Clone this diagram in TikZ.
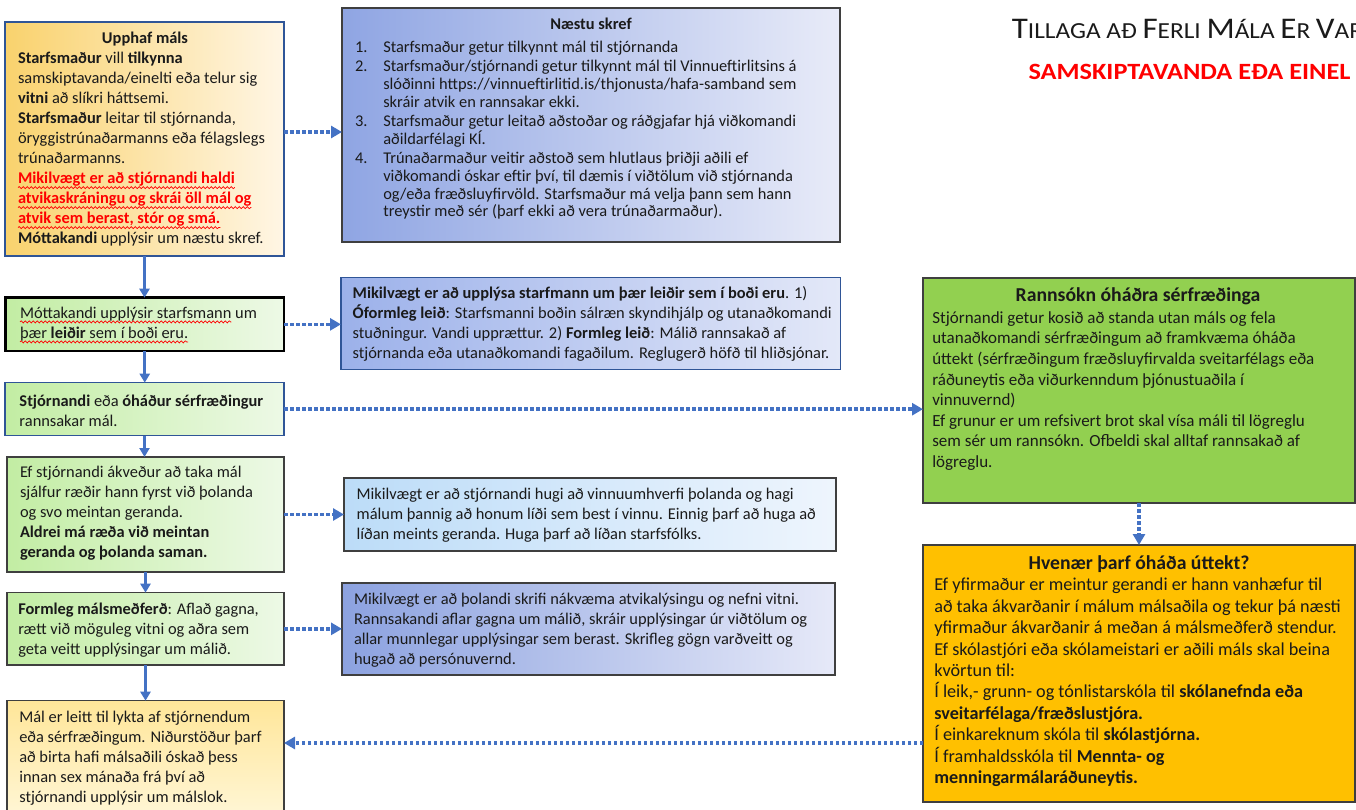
\documentclass[tikz,border=0pt]{standalone}
\usepackage{fontspec}
\usepackage{graphicx}
\setmainfont{Carlito}
\usetikzlibrary{arrows.meta,decorations.pathmorphing}
\definecolor{txtc}{HTML}{1A1A1A}
\definecolor{redtxt}{HTML}{FF0000}
\definecolor{wavered}{HTML}{FF0000}
\definecolor{arrblue}{HTML}{4472C4}
\definecolor{bordblue}{HTML}{2F5597}
\definecolor{bordgray}{HTML}{3F3F3F}
\definecolor{upL}{HTML}{F9D26D}
\definecolor{upR}{HTML}{FFF6E5}
\definecolor{naL}{HTML}{8FA5E3}
\definecolor{naR}{HTML}{E8EBF8}
\definecolor{leL}{HTML}{9CB1EA}
\definecolor{leR}{HTML}{E3E8F8}
\definecolor{grL}{HTML}{C2EDA3}
\definecolor{grR}{HTML}{EDF9E6}
\definecolor{maT}{HTML}{FFE699}
\definecolor{maB}{HTML}{FFF8DD}
\definecolor{huL}{HTML}{BCDCF8}
\definecolor{huR}{HTML}{EEF5FD}
\definecolor{thL}{HTML}{8CA2E0}
\definecolor{thR}{HTML}{E6E9F8}
\definecolor{rgreen}{HTML}{92D050}
\definecolor{horange}{HTML}{FFC000}
\newsavebox\wavbox
\newlength\wavw
\newcommand\wav[1]{\sbox\wavbox{#1}\setlength\wavw{\wd\wavbox}\usebox\wavbox\tikz[overlay,baseline=0pt]{\draw[wavered,line width=0.7pt,decorate,decoration={snake,amplitude=1.1pt,segment length=4pt}] (-\wavw,-3.6pt) -- (0pt,-3.6pt);}}
\newcommand\bigc[1]{{\fontsize{30}{30}\selectfont #1}}
\newcommand\smc[1]{{\fontsize{23}{30}\selectfont #1}}
\begin{document}
\begin{tikzpicture}[x=1pt,y=-1pt,
  box/.style={anchor=north west, inner sep=0pt, outer sep=0pt, line width=1.4pt},
  txt/.style={anchor=north west, inner sep=0pt, outer sep=0pt, align=left, text=txtc},
  ttl/.style={anchor=north, inner sep=0pt, outer sep=0pt, align=center, text=txtc},
  fa/.style={font=\fontsize{16.4}{20}\selectfont},
  solidarr/.style={draw=arrblue, line width=3pt, -{Triangle[length=9pt,width=10pt]}},
  dotarr/.style={draw=arrblue, line width=3.5pt, dash pattern=on 3.5pt off 2.5pt, -{Triangle[length=11pt,width=12pt]}}]
\useasboundingbox (0,0) rectangle (1356,810);
\clip (0,0) rectangle (1356,810);

% ---------- boxes ----------
\node[box, draw=bordblue, left color=upL, right color=upR, minimum width=279, minimum height=234] (upphaf) at (5,22) {};
\node[box, draw=bordgray, left color=naL, right color=naR, minimum width=498, minimum height=234] (naestu) at (342,8) {};
\node[box, draw=black, line width=2.5pt, left color=grL, right color=grR, minimum width=278.5, minimum height=53.3] (mott) at (5.5,297.7) {};
\node[box, draw=bordblue, left color=leL, right color=leR, minimum width=499.4, minimum height=92] (leidir) at (341,277.3) {};
\node[box, draw=bordblue, left color=grL, right color=grR, minimum width=279, minimum height=53] (stjorn) at (5,382.7) {};
\node[box, draw=bordgray, left color=grL, right color=grR, minimum width=277, minimum height=115] (ef) at (7,457) {};
\node[box, draw=bordgray, left color=huL, right color=huR, minimum width=492, minimum height=73] (hugi) at (344,478) {};
\node[box, draw=bordgray, left color=grL, right color=grR, minimum width=277, minimum height=72.3] (formleg) at (7,592.7) {};
\node[box, draw=bordgray, left color=thL, right color=thR, minimum width=493, minimum height=92] (thol) at (342,583) {};
\node[box, draw=bordgray, top color=maT, bottom color=maB, minimum width=277, minimum height=130] (mal) at (7,700.7) {};
\node[box, draw=bordgray, fill=rgreen, minimum width=432, minimum height=225] (rann) at (923,278) {};
\node[box, draw=bordgray, fill=horange, minimum width=432, minimum height=257] (hvenaer) at (923,545) {};

% ---------- title ----------
\node[anchor=base west, inner sep=0pt, text=txtc] (title1) at (1011.7,39)
  {\scalebox{1.1}[1]{\bigc{T}\smc{ILLAGA AÐ }\bigc{F}\smc{ERLI }\bigc{M}\smc{ÁLA }\bigc{E}\smc{R }\bigc{V}\smc{AR}}};
\node[anchor=base west, inner sep=0pt, text=redtxt, font=\bfseries\fontsize{23.3}{26}\selectfont] (title2) at (1028.3,80)
  {\scalebox{1.13}[1]{SAMSKIPTAVANDA EÐA EINEL}};

% ---------- texts ----------
\node[ttl, fa] (upT) at (145,30) {\strut\textbf{Upphaf máls}};
\node[txt, fa] (upB) at (18,50) {\strut\textbf{Starfsmaður} vill \textbf{tilkynna}\\
samskiptavanda/einelti eða telur sig\\
\textbf{vitni} að slíkri háttsemi.\\
\textbf{Starfsmaður} leitar til stjórnanda,\\
öryggistrúnaðarmanns eða félagslegs\\
trúnaðarmanns.\\
{\color{redtxt}\bfseries\wav{Mikilvægt er að stjórnandi haldi}}\\
{\color{redtxt}\bfseries\wav{atvikaskráningu og skrái öll mál og}}\\
{\color{redtxt}\bfseries\wav{atvik sem berast, stór og smá.}}\\
\textbf{Móttakandi} upplýsir um næstu skref.};

\node[ttl, fa] (naT) at (591,15.3) {\strut\textbf{Næstu skref}};
\node[txt, font=\fontsize{16.4}{17.7}\selectfont] (naB) at (355,40.3) {\strut\makebox[28.3pt][l]{1.}Starfsmaður getur tilkynnt mál til stjórnanda\\[1.6pt]
\makebox[28.3pt][l]{2.}Starfsmaður/stjórnandi getur tilkynnt mál til Vinnueftirlitsins á\\
\hspace*{28.3pt}slóðinni https://vinnueftirlitid.is/thjonusta/hafa-samband sem\\
\hspace*{28.3pt}skráir atvik en rannsakar ekki.\\[1.6pt]
\makebox[28.3pt][l]{3.}Starfsmaður getur leitað aðstoðar og ráðgjafar hjá viðkomandi\\
\hspace*{28.3pt}aðildarfélagi KÍ.\\[1.6pt]
\makebox[28.3pt][l]{4.}Trúnaðarmaður veitir aðstoð sem hlutlaus þriðji aðili ef\\
\hspace*{28.3pt}viðkomandi óskar eftir því, til dæmis í viðtölum við stjórnanda\\
\hspace*{28.3pt}og/eða fræðsluyfirvöld. Starfsmaður má velja þann sem hann\\
\hspace*{28.3pt}treystir með sér (þarf ekki að vera trúnaðarmaður).};

\node[txt, fa] (moB) at (20,304.3) {\strut\wav{Móttakandi upplýsir starfsmann} um\\
\wav{þær \textbf{leiðir} sem í boði eru.}};

\node[txt, fa] (leB) at (352.7,284.3) {\strut\textbf{Mikilvægt er að upplýsa starfmann um þær leiðir sem í boði eru}. 1)\\
\textbf{Óformleg leið}: Starfsmanni boðin sálræn skyndihjálp og utanaðkomandi\\
stuðningur. Vandi upprættur. 2) \textbf{Formleg leið}: Málið rannsakað af\\
stjórnanda eða utanaðkomandi fagaðilum. Reglugerð höfð til hliðsjónar.};

\node[txt, fa] (stB) at (19.5,392) {\strut\textbf{Stjórnandi} eða \textbf{óháður sérfræðingur}\\
rannsakar mál.};

\node[txt, fa] (efB) at (20,463.5) {\strut Ef stjórnandi ákveður að taka mál\\
sjálfur ræðir hann fyrst við þolanda\\
og svo meintan geranda.\\
\textbf{Aldrei má ræða við meintan}\\
\textbf{geranda og þolanda saman.}};

\node[txt, fa] (huB) at (356.7,485.5) {\strut Mikilvægt er að stjórnandi hugi að vinnuumhverfi þolanda og hagi\\
málum þannig að honum líði sem best í vinnu. Einnig þarf að huga að\\
líðan meints geranda. Huga þarf að líðan starfsfólks.};

\node[txt, fa] (foB) at (18.3,600) {\strut\textbf{Formleg málsmeðferð}: Aflað gagna,\\
rætt við möguleg vitni og aðra sem\\
geta veitt upplýsingar um málið.};

\node[txt, fa] (thB) at (354,590.3) {\strut Mikilvægt er að þolandi skrifi nákvæma atvikalýsingu og nefni vitni.\\
Rannsakandi aflar gagna um málið, skráir upplýsingar úr viðtölum og\\
allar munnlegar upplýsingar sem berast. Skrifleg gögn varðveitt og\\
hugað að persónuvernd.};

\node[txt, fa] (maB) at (19.3,708) {\strut Mál er leitt til lykta af stjórnendum\\
eða sérfræðingum. Niðurstöður þarf\\
að birta hafi málsaðili óskað þess\\
innan sex mánaða frá því að\\
stjórnandi upplýsir um málslok.};

\node[ttl, font=\fontsize{19.7}{20.6}\selectfont] (raT) at (1138,287.3) {\strut\textbf{Rannsókn óháðra sérfræðinga}};
\node[txt, font=\fontsize{17}{20.6}\selectfont] (raB) at (932.3,308.9) {\strut Stjórnandi getur kosið að standa utan máls og fela\\
utanaðkomandi sérfræðingum að framkvæma óháða\\
úttekt (sérfræðingum fræðsluyfirvalda sveitarfélags eða\\
ráðuneytis eða viðurkenndum þjónustuaðila í\\
vinnuvernd)\\
Ef grunur er um refsivert brot skal vísa máli til lögreglu\\
sem sér um rannsókn. Ofbeldi skal alltaf rannsakað af\\
lögreglu.};

\node[ttl, font=\fontsize{19.7}{21.4}\selectfont] (hvT) at (1139,554.3) {\strut\textbf{Hvenær þarf óháða úttekt?}};
\node[txt, font=\fontsize{18.2}{21.4}\selectfont] (hvB) at (934.3,576) {\strut Ef yfirmaður er meintur gerandi er hann vanhæfur til\\
að taka ákvarðanir í málum málsaðila og tekur þá næsti\\
yfirmaður ákvarðanir á meðan á málsmeðferð stendur.\\
Ef skólastjóri eða skólameistari er aðili máls skal beina\\
kvörtun til:\\
Í leik,- grunn- og tónlistarskóla til \textbf{skólanefnda eða}\\
\textbf{sveitarfélaga/fræðslustjóra.}\\
Í einkareknum skóla til \textbf{skólastjórna.}\\
Í framhaldsskóla til \textbf{Mennta- og}\\
\textbf{menningarmálaráðuneytis.}};

% ---------- connectors ----------
\coordinate (ya) at (0,132);
\coordinate (yb) at (0,743);
\draw[dotarr] (ya -| upphaf.east) -- (ya -| naestu.west);
\draw[solidarr] (upphaf.south) -- (upphaf.south |- mott.north);
\draw[dotarr] (mott.east) -- (mott.east -| leidir.west);
\draw[solidarr] (mott.south) -- (mott.south |- stjorn.north);
\draw[dotarr] (stjorn.east) -- (stjorn.east -| rann.west);
\draw[solidarr] (stjorn.south) -- (stjorn.south |- ef.north);
\draw[dotarr] (ef.east) -- (ef.east -| hugi.west);
\draw[solidarr] (ef.south) -- (ef.south |- formleg.north);
\draw[dotarr] (formleg.east) -- (formleg.east -| thol.west);
\draw[solidarr] (formleg.south) -- (formleg.south |- mal.north);
\draw[dotarr] (yb -| hvenaer.west) -- (yb -| mal.east);
\draw[dotarr] (rann.south) -- (rann.south |- hvenaer.north);
\end{tikzpicture}
\end{document}
